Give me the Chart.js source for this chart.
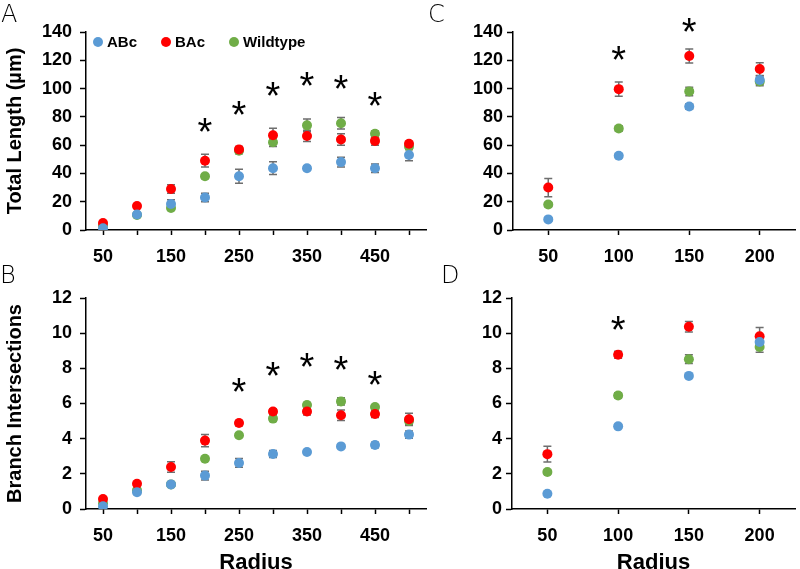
<!DOCTYPE html>
<html>
<head>
<meta charset="utf-8">
<script src="https://cdn.jsdelivr.net/npm/chart.js@4.4.0/dist/chart.umd.min.js"></script>
<style>
  body { margin: 0; background: #fff; width: 800px; height: 569px; position: relative; overflow: hidden; }
  canvas { position: absolute; }
  .letter { position: absolute; font-family: "DejaVu Sans", sans-serif; font-weight: 200; font-size: 24px; line-height: 24px; color: #000; }
  #legendA { position: absolute; left: 93px; top: 34px; display: flex; align-items: center; height: 16px;
             font-family: "Liberation Sans", Arial, sans-serif; font-weight: bold; font-size: 15px; line-height: 16px; color: #000; }
  #legendA .item { display: flex; align-items: center; margin-right: 24px; }
  #legendA .dot { width: 10px; height: 10px; border-radius: 50%; margin-right: 4px; }
</style>
</head>
<body>
<canvas id="chartA" width="440" height="272" style="left:0;top:0"></canvas>
<canvas id="chartB" width="440" height="297" style="left:0;top:272px"></canvas>
<canvas id="chartC" width="360" height="272" style="left:440px;top:0"></canvas>
<canvas id="chartD" width="360" height="297" style="left:440px;top:272px"></canvas>
<div id="legendA"></div>
<div class="letter" style="left:1px;top:2px">A</div>
<div class="letter" style="left:0px;top:263px">B</div>
<div class="letter" style="left:428px;top:2px">C</div>
<div class="letter" style="left:441px;top:263px">D</div>
<script>
// series
const seriesNames = ["ABc", "BAc", "Wildtype"];
const seriesColors = ["#5B9BD5", "#FF0000", "#70AD47"];

// left panels (A, B)
const radiusLeft = [50, 100, 150, 200, 250, 300, 350, 400, 450, 500];
const radiusLeftLabels = [50, 150, 250, 350, 450];

const lengthABc = [1.2, 11, 18.4, 23, 38, 43.7, 43.7, 48, 43.7, 53];
const lengthABcErr = [1, 1, 3, 3, 5, 4.5, 1.5, 3.5, 3, 4];
const lengthBAc = [5, 17, 29, 49, 57, 67, 66.5, 64, 63, 61];
const lengthBAcErr = [1, 1.5, 3, 4.5, 2, 5, 4, 4, 3, 1.5];
const lengthWT = [3, 10.6, 15.5, 38, 56, 62, 74, 75.5, 68, 59];
const lengthWTErr = [1, 1.5, 1.5, 1.5, 2, 3, 4.5, 4, 2, 2];

const interABc = [0.15, 0.95, 1.4, 1.9, 2.62, 3.13, 3.24, 3.56, 3.64, 4.23];
const interABcErr = [0.05, 0.05, 0.1, 0.25, 0.25, 0.2, 0.1, 0.1, 0.15, 0.2];
const interBAc = [0.57, 1.44, 2.39, 3.89, 4.89, 5.54, 5.55, 5.33, 5.4, 5.1];
const interBAcErr = [0.1, 0.1, 0.3, 0.35, 0.15, 0.15, 0.2, 0.3, 0.2, 0.35];
const interWT = [0.33, 1.06, 1.4, 2.86, 4.19, 5.14, 5.91, 6.12, 5.8, 5.0];
const interWTErr = [0.05, 0.1, 0.1, 0.1, 0.1, 0.15, 0.15, 0.2, 0.1, 0.2];

// right panels (C, D)
const radiusRight = [50, 100, 150, 200];

const lengthABc2 = [7.5, 52.5, 87.3, 106];
const lengthABc2Err = [1, 1.5, 2, 3];
const lengthBAc2 = [30, 99.6, 123, 113.8];
const lengthBAc2Err = [6.5, 5, 5, 4.5];
const lengthWT2 = [18, 71.8, 98, 105];
const lengthWT2Err = [1.5, 2, 3, 3];

const interABc2 = [0.87, 4.7, 7.57, 9.5];
const interABc2Err = [0.05, 0.1, 0.1, 0.3];
const interBAc2 = [3.12, 8.77, 10.37, 9.82];
const interBAc2Err = [0.45, 0.2, 0.3, 0.5];
const interWT2 = [2.1, 6.46, 8.52, 9.21];
const interWT2Err = [0.1, 0.15, 0.25, 0.3];

// significance marks
const starsAx = [200, 250, 300, 350, 400, 450];
const starsAy = [74, 86, 100, 106.5, 104.4, 92.4];
const starsBx = [250, 300, 350, 400, 450];
const starsBy = [7.05, 7.95, 8.47, 8.32, 7.43];
const starsCx = [100, 150];
const starsCy = [125, 145];
const starsDx = [100];
const starsDy = [10.56];

Chart.defaults.font.family = "'Liberation Sans', Arial, sans-serif";
Chart.defaults.font.weight = "bold";
Chart.defaults.font.size = 18;
Chart.defaults.color = "#000";
Chart.defaults.animation = false;

const errorBars = {
  id: "errorBars",
  beforeDatasetsDraw(chart) {
    const ctx = chart.ctx;
    const xs = chart.scales.x;
    const ys = chart.scales.y;
    ctx.save();
    ctx.strokeStyle = "#6e6e6e";
    ctx.lineWidth = 1.5;
    chart.data.datasets.forEach((ds) => {
      ds.data.forEach((p, i) => {
        const e = ds.errors[i];
        const px = xs.getPixelForValue(p.x);
        const top = ys.getPixelForValue(p.y + e);
        const bot = ys.getPixelForValue(p.y - e);
        ctx.beginPath();
        ctx.moveTo(px, top);
        ctx.lineTo(px, bot);
        ctx.moveTo(px - 4, top);
        ctx.lineTo(px + 4, top);
        ctx.moveTo(px - 4, bot);
        ctx.lineTo(px + 4, bot);
        ctx.stroke();
      });
    });
    ctx.restore();
  },
};

const stars = {
  id: "stars",
  afterDatasetsDraw(chart, args, opts) {
    if (!opts.x) return;
    const ctx = chart.ctx;
    ctx.save();
    ctx.font = "normal 38px 'Liberation Sans', Arial, sans-serif";
    ctx.fillStyle = "#000";
    ctx.textAlign = "center";
    ctx.textBaseline = "alphabetic";
    const m = ctx.measureText("*");
    const shift = (m.actualBoundingBoxAscent - m.actualBoundingBoxDescent) / 2;
    opts.x.forEach((xv, i) => {
      const px = chart.scales.x.getPixelForValue(xv);
      const py = chart.scales.y.getPixelForValue(opts.y[i]);
      ctx.fillText("*", px, py + shift);
    });
    ctx.restore();
  },
};

function makePanel(canvasId, xValues, ys, errs, o) {
  const datasets = seriesNames.map((name, s) => ({
    label: name,
    data: xValues.map((x, i) => ({ x: x, y: ys[s][i] })),
    errors: errs[s],
    backgroundColor: seriesColors[s],
    borderColor: seriesColors[s],
    borderWidth: 0,
    pointRadius: 5,
    pointHoverRadius: 5,
  }));

  const axisLine = { display: true, color: "#000", width: 1.5 };

  return new Chart(document.getElementById(canvasId), {
    type: "scatter",
    data: { datasets: datasets },
    options: {
      responsive: false,
      layout: { padding: { left: 0, top: o.top, right: o.right, bottom: 0 } },
      scales: {
        x: {
          type: "linear",
          min: o.xMin,
          max: o.xMax,
          afterBuildTicks: (scale) => {
            scale.ticks = xValues.map((v) => ({ value: v }));
          },
          afterFit: (scale) => {
            scale.height = o.xHeight;
          },
          grid: { display: true, drawOnChartArea: false, tickLength: 5, tickColor: "#000", tickWidth: 1.5 },
          border: axisLine,
          ticks: {
            autoSkip: false,
            maxRotation: 0,
            padding: 11,
            callback: (v) => (o.xLabels.includes(v) ? String(v) : ""),
          },
          title: {
            display: !!o.xTitle,
            text: o.xTitle || "",
            font: { size: 22, weight: "bold" },
            padding: { top: 0, bottom: -7 },
          },
        },
        y: {
          min: 0,
          max: o.yMax,
          afterFit: (scale) => {
            scale.width = o.yWidth;
          },
          grid: { display: true, drawOnChartArea: false, tickLength: 6, tickColor: "#000", tickWidth: 1.5 },
          border: axisLine,
          ticks: { stepSize: o.yStep, padding: o.yPad },
          title: {
            display: !!o.yTitle,
            text: o.yTitle || "",
            font: { size: 20, weight: "bold" },
            padding: { top: 3, bottom: 0 },
          },
        },
      },
      plugins: {
        legend: { display: false },
        tooltip: { enabled: false },
        stars: { x: o.starX, y: o.starY },
      },
    },
    plugins: [errorBars, stars],
  });
}

const chartA = makePanel("chartA", radiusLeft, [lengthABc, lengthBAc, lengthWT], [lengthABcErr, lengthBAcErr, lengthWTErr], {
  top: 32, right: 14, xMin: 25, xMax: 525, xHeight: 42, xLabels: radiusLeftLabels,
  yMax: 140, yStep: 20, yWidth: 86, yPad: 8, yTitle: "Total Length (µm)",
  starX: starsAx, starY: starsAy,
});

makePanel("chartB", radiusLeft, [interABc, interBAc, interWT], [interABcErr, interBAcErr, interWTErr], {
  top: 26, right: 14, xMin: 25, xMax: 525, xHeight: 60, xLabels: radiusLeftLabels, xTitle: "Radius",
  yMax: 12, yStep: 2, yWidth: 86, yPad: 8, yTitle: "Branch Intersections",
  starX: starsBx, starY: starsBy,
});

makePanel("chartC", radiusRight, [lengthABc2, lengthBAc2, lengthWT2], [lengthABc2Err, lengthBAc2Err, lengthWT2Err], {
  top: 32, right: 2, xMin: 25, xMax: 225, xHeight: 42, xLabels: radiusRight,
  yMax: 140, yStep: 20, yWidth: 73, yPad: 4,
  starX: starsCx, starY: starsCy,
});

makePanel("chartD", radiusRight, [interABc2, interBAc2, interWT2], [interABc2Err, interBAc2Err, interWT2Err], {
  top: 26, right: 2, xMin: 25, xMax: 225, xHeight: 60, xLabels: radiusRight, xTitle: "Radius",
  yMax: 12, yStep: 2, yWidth: 72, yPad: 4,
  starX: starsDx, starY: starsDy,
});

// HTML legend for panel A, built from the chart's own legend items
const legendBox = document.getElementById("legendA");
Chart.defaults.plugins.legend.labels.generateLabels(chartA).forEach((item) => {
  const row = document.createElement("span");
  row.className = "item";
  const dot = document.createElement("span");
  dot.className = "dot";
  dot.style.background = item.fillStyle;
  const label = document.createElement("span");
  label.textContent = item.text;
  row.appendChild(dot);
  row.appendChild(label);
  legendBox.appendChild(row);
});
</script>
</body>
</html>
